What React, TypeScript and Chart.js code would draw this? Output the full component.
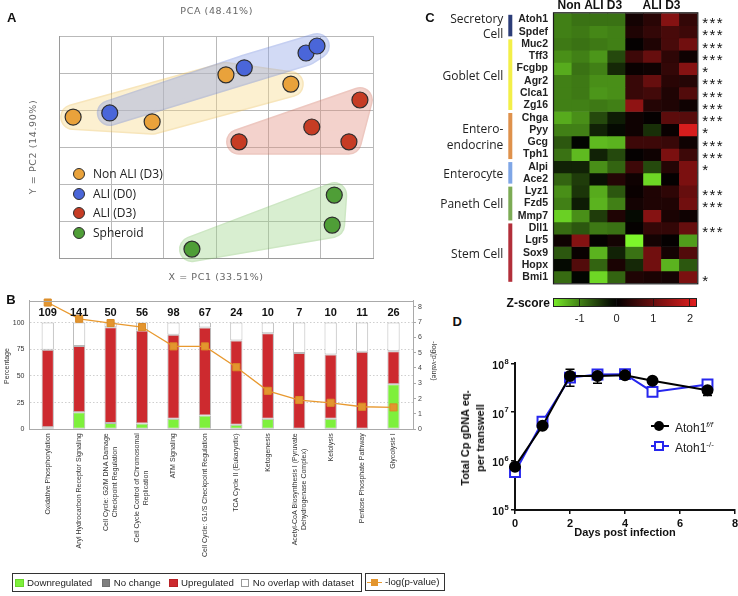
import React, { useEffect, useRef } from "react";
import { Chart, registerables } from "chart.js";
Chart.register(...registerables);

const FONT = "'Liberation Sans', Arial, sans-serif";

// ---------------- Panel A : PCA ----------------
const pcaGroupNames = ["Non ALI (D3)", "ALI (D0)", "ALI (D3)", "Spheroid"];
const pcaNonAliD3X = [0.27, 1.78, 3.19, 4.43];
const pcaNonAliD3Y = [3.81, 3.68, 4.95, 4.7];
const pcaAliD0X = [0.97, 3.54, 4.72, 4.93];
const pcaAliD0Y = [3.92, 5.14, 5.54, 5.73];
const pcaAliD3X = [3.44, 4.83, 5.54, 5.75];
const pcaAliD3Y = [3.14, 3.54, 3.14, 4.27];
const pcaSpheroidX = [2.54, 5.22, 5.26];
const pcaSpheroidY = [0.24, 0.89, 1.7];
const pcaGridTicks = [0, 1, 2, 3, 4, 5, 6];
const pcaPointColors = ["#e9a23b", "#4a66d9", "#c63c24", "#4f9e37"];
const pcaHullFill = ["#f7d98a", "#8ea3e6", "#e0907f", "#9fd58a"];
const pcaHullEdge = ["#ecbf55", "#6f88dc", "#d27462", "#82c26a"];

// ---------------- Panel B : pathways ----------------
const pathwayLabels = [
  ["Oxidative Phosphorylation"],
  ["Aryl Hydrocarbon Receptor Signaling"],
  ["Cell Cycle: G2/M DNA Damage", "Checkpoint Regulation"],
  ["Cell Cycle Control of Chromosomal", "Replication"],
  ["ATM Signaling"],
  ["Cell Cycle: G1/S Checkpoint Regulation"],
  ["TCA Cycle II (Eukaryotic)"],
  ["Ketogenesis"],
  ["Acetyl-CoA Biosynthesis I (Pyruvate", "Dehydrogenase Complex)"],
  ["Ketolysis"],
  ["Pentose Phosphate Pathway"],
  ["Glycolysis I"],
];
const pathwayGeneCounts = [109, 141, 50, 56, 98, 67, 24, 10, 7, 10, 11, 26];
const downPct = [2, 16, 6, 5.4, 10, 13, 4.2, 10, 0, 10, 0, 42.3];
const noChangePct = [0, 0, 0, 0, 0, 0, 0, 0, 0, 0, 0, 0];
const upPct = [72.5, 62, 89.6, 87.1, 78.7, 82.5, 79.1, 80, 71.4, 60, 72.7, 30.8];
const noOverlapPct = [25.5, 22, 4.4, 7.5, 11.3, 4.5, 16.7, 10, 28.6, 30, 27.3, 26.9];
const negLogP = [8.27, 7.21, 6.93, 6.67, 5.41, 5.41, 4.05, 2.51, 1.91, 1.73, 1.47, 1.43];
const pctTicks = [0, 25, 50, 75, 100];
const pTicks = [0, 1, 2, 3, 4, 5, 6, 7, 8];

// ---------------- Panel C : heatmap ----------------
const heatSamples = ["Non ALI D3 1", "Non ALI D3 2", "Non ALI D3 3", "Non ALI D3 4", "ALI D3 1", "ALI D3 2", "ALI D3 3", "ALI D3 4"];
const heatGenes = ["Atoh1", "Spdef", "Muc2", "Tff3", "Fcgbp", "Agr2", "Clca1", "Zg16", "Chga", "Pyy", "Gcg", "Tph1", "Alpi", "Ace2", "Lyz1", "Fzd5", "Mmp7", "Dll1", "Lgr5", "Sox9", "Hopx", "Bmi1"];
const zAtoh1 = [-1.0, -0.9, -0.9, -0.9, 0.2, 0.4, 1.3, 0.5];
const zSpdef = [-1.0, -0.95, -1.05, -1.0, 0.3, 0.5, 0.7, 0.6];
const zMuc2 = [-0.95, -0.9, -0.95, -1.0, 0.05, 0.3, 0.7, 1.1];
const zTff3 = [-1.1, -1.0, -1.15, -0.6, 0.6, 1.0, 0.45, 0.15];
const zFcgbp = [-1.3, -0.9, -1.0, -0.35, 0.1, 0.15, 0.5, 1.3];
const zAgr2 = [-1.0, -0.95, -1.1, -1.1, 0.55, 1.0, 0.4, 0.35];
const zClca1 = [-1.0, -0.95, -1.15, -1.1, 0.55, 0.65, 0.3, 0.8];
const zZg16 = [-1.0, -1.0, -0.95, -1.0, 1.4, 0.35, 0.3, 0.15];
const zChga = [-1.3, -1.1, -0.6, -0.25, 0.15, 0.05, 0.9, 0.85];
const zPyy = [-1.0, -1.0, -0.3, -0.1, 0.15, -0.4, 0.1, 2.1];
const zGcg = [-0.7, -0.05, -1.4, -1.35, 0.6, 0.6, 0.55, 0.15];
const zTph1 = [-0.9, -1.4, -0.3, -0.6, 0.05, 0.15, 1.2, 0.6];
const zAlpi = [-0.3, -0.3, -1.1, -0.8, 0.6, -0.6, 0.35, 1.2];
const zAce2 = [-0.8, -0.5, -0.15, 0.35, 0.15, -1.6, 0.05, 1.2];
const zLyz1 = [-1.1, -0.45, -1.3, -0.7, 0.1, 0.3, 0.45, 1.0];
const zFzd5 = [-1.0, -0.25, -1.35, -1.0, 0.2, 0.3, 0.3, 1.1];
const zMmp7 = [-1.55, -1.1, -0.5, 0.3, -0.1, 1.3, 0.25, 0.15];
const zDll1 = [-0.85, -0.7, -0.95, -0.9, 0.05, 0.5, 0.5, 1.0];
const zLgr5 = [0.15, 1.3, 0.05, 0.2, -1.9, 0.2, 0.05, -1.2];
const zSox9 = [-0.7, 0.1, -1.35, -0.3, -0.9, 1.1, 0.2, 0.8];
const zHopx = [-0.1, 0.8, -0.8, 0.25, -0.35, 1.1, -1.35, -0.7];
const zBmi1 = [-0.85, -0.05, -1.6, -0.8, 0.3, 0.25, 0.2, 1.2];
const heatRows = [zAtoh1, zSpdef, zMuc2, zTff3, zFcgbp, zAgr2, zClca1, zZg16, zChga, zPyy, zGcg, zTph1, zAlpi, zAce2, zLyz1, zFzd5, zMmp7, zDll1, zLgr5, zSox9, zHopx, zBmi1];
const heatStars = ["***", "***", "***", "***", "*", "***", "***", "***", "***", "*", "***", "***", "*", "", "***", "***", "", "***", "", "", "", "*"];
const cellTypeNames = [["Secretory", "Cell"], ["Goblet Cell"], ["Entero-", "endocrine"], ["Enterocyte"], ["Paneth Cell"], ["Stem Cell"]];
const cellTypeRowCounts = [2, 6, 4, 2, 3, 5];
const cellTypeColors = ["#2c3d78", "#f3ef48", "#df914b", "#7fa6e6", "#7cab55", "#b22f3a"];
const zScoreTicks = [-1, 0, 1, 2];
const zScoreMin = -1.72;
const zScoreMax = 2.2;

// ---------------- Panel D : infection ----------------
const dpiDays = [0, 1, 2, 3, 4, 5, 7];
const atohFlox = [7.7e5, 5.3e6, 5.5e7, 5.5e7, 5.7e7, 4.4e7, 2.8e7];
const atohFloxLow = [7.0e5, 4.8e6, 3.4e7, 3.9e7, 5.1e7, 4.1e7, 2.2e7];
const atohFloxHigh = [8.4e5, 5.8e6, 7.6e7, 6.8e7, 6.3e7, 4.8e7, 3.3e7];
const atohKo = [6.0e5, 6.4e6, 5.1e7, 5.9e7, 6.0e7, 2.6e7, 3.7e7];
const dXTicks = [0, 2, 4, 6, 8];
const dYTicks = [1e5, 1e6, 1e7, 1e8];

function zColor(z: number) {
  if (z < 0) {
    const t = Math.pow(Math.min(1, -z / 1.8), 1.1);
    return `rgb(${Math.round(125 * t)},${Math.round(245 * t)},${Math.round(42 * t)})`;
  }
  const t = Math.min(1, z / 2.2);
  return `rgb(${Math.round(225 * t)},${Math.round(30 * t)},${Math.round(30 * t)})`;
}

function convexHull(pts: { x: number; y: number }[]) {
  const p = [...pts].sort((a, b) => a.x - b.x || a.y - b.y);
  if (p.length < 3) return p;
  const cross = (o: any, a: any, b: any) => (a.x - o.x) * (b.y - o.y) - (a.y - o.y) * (b.x - o.x);
  const lower: any[] = [];
  for (const q of p) {
    while (lower.length >= 2 && cross(lower[lower.length - 2], lower[lower.length - 1], q) <= 0) lower.pop();
    lower.push(q);
  }
  const upper: any[] = [];
  for (const q of [...p].reverse()) {
    while (upper.length >= 2 && cross(upper[upper.length - 2], upper[upper.length - 1], q) <= 0) upper.pop();
    upper.push(q);
  }
  upper.pop();
  lower.pop();
  return lower.concat(upper);
}

const pcaHullPlugin = {
  id: "pcaHulls",
  beforeDatasetsDraw(chart: any) {
    const ctx = chart.ctx;
    const dpr = chart.currentDevicePixelRatio || 1;
    const pad = 13;
    chart.data.datasets.forEach((_: any, i: number) => {
      const meta = chart.getDatasetMeta(i);
      const hull = convexHull(meta.data.map((p: any) => ({ x: p.x, y: p.y })));
      const off = document.createElement("canvas");
      off.width = chart.canvas.width;
      off.height = chart.canvas.height;
      const o = off.getContext("2d")!;
      o.setTransform(dpr, 0, 0, dpr, 0, 0);
      o.lineJoin = "round";
      o.lineCap = "round";
      const path = () => {
        o.beginPath();
        hull.forEach((q: any, k: number) => (k ? o.lineTo(q.x, q.y) : o.moveTo(q.x, q.y)));
        o.closePath();
      };
      path();
      o.fillStyle = pcaHullEdge[i];
      o.strokeStyle = pcaHullEdge[i];
      o.lineWidth = 2 * pad;
      o.fill();
      o.stroke();
      path();
      o.fillStyle = pcaHullFill[i];
      o.strokeStyle = pcaHullFill[i];
      o.lineWidth = 2 * pad - 3;
      o.fill();
      o.stroke();
      ctx.save();
      ctx.setTransform(1, 0, 0, 1, 0, 0);
      ctx.globalAlpha = 0.4;
      ctx.drawImage(off, 0, 0);
      ctx.restore();
    });
  },
};

function makeA(canvas: HTMLCanvasElement) {
  const groups = [
    [pcaNonAliD3X, pcaNonAliD3Y],
    [pcaAliD0X, pcaAliD0Y],
    [pcaAliD3X, pcaAliD3Y],
    [pcaSpheroidX, pcaSpheroidY],
  ];
  return new Chart(canvas, {
    type: "scatter",
    data: {
      datasets: groups.map((g, i) => ({
        label: pcaGroupNames[i],
        data: g[0].map((x, j) => ({ x, y: g[1][j] })),
        backgroundColor: pcaPointColors[i],
        borderColor: "#2e2e2e",
        borderWidth: 1.2,
        pointRadius: 8,
      })),
    },
    options: {
      animation: false,
      responsive: false,
      events: [],
      layout: { autoPadding: false, padding: { left: 59, top: 36, right: 7, bottom: 32 } },
      plugins: { legend: { display: false }, tooltip: { enabled: false } },
      scales: {
        x: {
          type: "linear", min: 0, max: 6,
          afterBuildTicks: (s: any) => { s.ticks = pcaGridTicks.map((v) => ({ value: v })); },
          ticks: { display: false },
          grid: { color: "#b9b9b9", drawTicks: false },
          border: { color: "#9a9a9a" },
          afterFit: (s: any) => { s.height = 0; s.paddingLeft = 0; s.paddingRight = 0; },
        },
        y: {
          type: "linear", min: 0, max: 6,
          afterBuildTicks: (s: any) => { s.ticks = pcaGridTicks.map((v) => ({ value: v })); },
          ticks: { display: false },
          grid: { color: "#b9b9b9", drawTicks: false },
          border: { color: "#9a9a9a" },
          afterFit: (s: any) => { s.width = 0; s.paddingTop = 0; s.paddingBottom = 0; },
        },
      },
    } as any,
    plugins: [pcaHullPlugin],
  });
}

const bDecorPlugin = {
  id: "bDecor",
  afterDraw(chart: any) {
    const { ctx, chartArea: ca } = chart;
    const xs = chart.scales.x;
    ctx.save();
    ctx.strokeStyle = "#aaaaaa";
    ctx.lineWidth = 1;
    ctx.beginPath();
    ctx.moveTo(ca.left, Math.round(ca.top) + 0.5);
    ctx.lineTo(ca.right, Math.round(ca.top) + 0.5);
    ctx.stroke();
    ctx.fillStyle = "#111";
    ctx.font = `bold 11px ${FONT}`;
    ctx.textAlign = "center";
    ctx.textBaseline = "middle";
    pathwayGeneCounts.forEach((c, i) => ctx.fillText(String(c), xs.getPixelForValue(i), ca.top + 12.6));
    ctx.font = `7px ${FONT}`;
    ctx.fillStyle = "#333";
    pathwayLabels.forEach((lines, i) => {
      const x = xs.getPixelForValue(i);
      const maxW = Math.max(...lines.map((l) => ctx.measureText(l).width));
      const cy = ca.bottom + 4 + maxW / 2;
      lines.forEach((l, k) => {
        ctx.save();
        ctx.translate(x + (k - (lines.length - 1) / 2) * 9, cy);
        ctx.rotate(-Math.PI / 2);
        ctx.fillText(l, 0, 0);
        ctx.restore();
      });
    });
    ctx.restore();
  },
};

function makeB(canvas: HTMLCanvasElement) {
  const barCommon = { stack: "s", order: 1, borderColor: "#b9b9b9", borderWidth: 1, borderSkipped: false, barPercentage: 0.39, categoryPercentage: 1 };
  const pts = (arr: number[]) => arr.map((v, i) => ({ x: i, y: v }));
  return new Chart(canvas, {
    type: "bar",
    data: {
      datasets: [
        {
          type: "line", label: "-log(p-value)", data: pts(negLogP), yAxisID: "y2", order: 0, clip: false,
          borderColor: "#e8992f", borderWidth: 1.3, fill: false, tension: 0,
          pointStyle: "rect", pointRadius: 5, pointBackgroundColor: "#e3952e", pointBorderColor: "#d98a26", pointBorderWidth: 1,
        },
        { ...barCommon, label: "Downregulated", data: pts(downPct), backgroundColor: "#7ef03c" },
        { ...barCommon, label: "No change", data: pts(noChangePct), backgroundColor: "#7f7f7f", borderWidth: 0 },
        { ...barCommon, label: "Upregulated", data: pts(upPct), backgroundColor: "#cd2a2f" },
        { ...barCommon, label: "No overlap with dataset", data: pts(noOverlapPct), backgroundColor: "#ffffff" },
      ] as any,
    },
    options: {
      animation: false,
      responsive: false,
      events: [],
      layout: { autoPadding: false, padding: { left: 0, top: 10.7, right: 0, bottom: 140.7 } },
      plugins: { legend: { display: false }, tooltip: { enabled: false } },
      scales: {
        x: {
          type: "linear", stacked: true, min: -0.58, max: 11.62, offset: false,
          grid: { display: false },
          ticks: { display: false },
          border: { color: "#aaaaaa" },
          afterFit: (s: any) => { s.height = 0; s.paddingLeft = 0; s.paddingRight = 0; },
        },
        y: {
          stacked: true, min: 0, max: 120.5,
          afterBuildTicks: (s: any) => { s.ticks = pctTicks.map((v) => ({ value: v })); },
          ticks: { font: { size: 7, family: FONT }, color: "#333", padding: 5 },
          grid: { color: "#cfcfcf", drawTicks: false },
          border: { color: "#aaaaaa", dash: [1.5, 2] },
          afterFit: (s: any) => { s.width = 29.5; s.paddingTop = 0; s.paddingBottom = 0; },
        },
        y2: {
          position: "right", min: 0, max: 8.39,
          afterBuildTicks: (s: any) => { s.ticks = pTicks.map((v) => ({ value: v })); },
          ticks: { font: { size: 7, family: FONT }, color: "#444", padding: 2 },
          grid: { drawOnChartArea: false, drawTicks: true, tickLength: 3, color: "#aaaaaa" },
          border: { color: "#aaaaaa" },
          afterFit: (s: any) => { s.width = 37; s.paddingTop = 0; s.paddingBottom = 0; },
        },
      },
    } as any,
    plugins: [bDecorPlugin],
  });
}

const heatDecorPlugin = {
  id: "heatDecor",
  afterDraw(chart: any) {
    const { ctx, chartArea: ca } = chart;
    const ys = chart.scales.y;
    const xs = chart.scales.x;
    ctx.save();
    ctx.strokeStyle = "#1a1a1a";
    ctx.lineWidth = 1.2;
    ctx.strokeRect(ca.left - 0.5, ca.top - 0.5, ca.right - ca.left + 1, ca.bottom - ca.top + 1);
    ctx.fillStyle = "#111";
    ctx.font = `bold 12px ${FONT}`;
    ctx.textAlign = "center";
    ctx.textBaseline = "middle";
    ctx.fillText("Non ALI D3", (xs.getPixelForValue(0) + xs.getPixelForValue(3)) / 2, 5.5);
    ctx.fillText("ALI D3", (xs.getPixelForValue(4) + xs.getPixelForValue(7)) / 2, 5.5);
    ctx.font = `15px ${FONT}`;
    ctx.textAlign = "left";
    ctx.textBaseline = "alphabetic";
    heatStars.forEach((s, i) => {
      const y = ys.getPixelForValue(i + 0.5);
      for (let k = 0; k < s.length; k++) ctx.fillText("*", ca.right + 5 + k * 7.2, y + 8.6);
    });
    let r = 0;
    cellTypeRowCounts.forEach((n, g) => {
      const y0 = ys.getPixelForValue(r);
      const y1 = ys.getPixelForValue(r + n);
      ctx.fillStyle = cellTypeColors[g];
      ctx.fillRect(ca.left - 45.7, y0 + 1.5, 4, y1 - y0 - 3);
      const names = cellTypeNames[g];
      const cy = (y0 + y1) / 2 + 1.5;
      ctx.fillStyle = "#222";
      ctx.font = `12px 'Open Sans', ${FONT}`;
      ctx.textAlign = "right";
      ctx.textBaseline = "middle";
      names.forEach((t, k) => ctx.fillText(t, ca.left - 50.7, cy + (k - (names.length - 1) / 2) * 15.5));
      r += n;
    });
    ctx.restore();
  },
};

function makeC(canvas: HTMLCanvasElement) {
  return new Chart(canvas, {
    type: "bar",
    data: {
      labels: heatSamples,
      datasets: heatGenes.map((g, i) => ({
        label: g,
        data: heatSamples.map(() => 1),
        backgroundColor: heatRows[i].map(zColor),
        borderWidth: 0,
        barPercentage: 1,
        categoryPercentage: 1,
        stack: "heat",
      })),
    },
    options: {
      animation: false,
      responsive: false,
      events: [],
      layout: { autoPadding: false, padding: { left: 0, top: 13.3, right: 40.7, bottom: 12.7 } },
      plugins: { legend: { display: false }, tooltip: { enabled: false } },
      scales: {
        x: {
          stacked: true,
          grid: { display: false },
          ticks: { display: false },
          border: { display: false },
          afterFit: (s: any) => { s.height = 0; s.paddingLeft = 0; s.paddingRight = 0; },
        },
        y: {
          type: "linear", stacked: true, reverse: true, min: 0, max: heatGenes.length,
          afterBuildTicks: (s: any) => { s.ticks = heatGenes.map((_, i) => ({ value: i + 0.5 })); },
          ticks: {
            autoSkip: false,
            callback: (_v: any, i: number) => heatGenes[i],
            font: { weight: "bold", size: 10.5, family: FONT },
            color: "#222",
            padding: 6,
          },
          grid: { display: false, drawTicks: false },
          border: { display: false },
          afterFit: (s: any) => { s.width = 174; s.paddingTop = 0; s.paddingBottom = 0; },
        },
      },
    } as any,
    plugins: [heatDecorPlugin],
  });
}

const dDecorPlugin = {
  id: "dDecor",
  beforeDatasetsDraw(chart: any) {
    const { ctx } = chart;
    const xs = chart.scales.x;
    const ys = chart.scales.y;
    ctx.save();
    ctx.strokeStyle = "#000";
    ctx.lineWidth = 1.5;
    dpiDays.forEach((d, i) => {
      const x = xs.getPixelForValue(d);
      const yl = ys.getPixelForValue(atohFloxLow[i]);
      const yh = ys.getPixelForValue(atohFloxHigh[i]);
      ctx.beginPath();
      ctx.moveTo(x, yl);
      ctx.lineTo(x, yh);
      ctx.moveTo(x - 4.5, yl);
      ctx.lineTo(x + 4.5, yl);
      ctx.moveTo(x - 4.5, yh);
      ctx.lineTo(x + 4.5, yh);
      ctx.stroke();
    });
    ctx.restore();
  },
  afterDraw(chart: any) {
    const { ctx } = chart;
    const ys = chart.scales.y;
    const ax = chart.chartArea.left;
    ctx.save();
    ctx.fillStyle = "#111";
    dYTicks.forEach((v) => {
      const y = ys.getPixelForValue(v);
      ctx.font = `bold 10.5px ${FONT}`;
      ctx.textAlign = "right";
      ctx.textBaseline = "middle";
      ctx.fillText("10", ax - 11, y + 2.5);
      ctx.font = `bold 7.5px ${FONT}`;
      ctx.textAlign = "left";
      ctx.fillText(String(Math.round(Math.log10(v))), ax - 10.5, y - 1.8);
    });
    ctx.restore();
  },
};

function makeD(canvas: HTMLCanvasElement) {
  return new Chart(canvas, {
    type: "line",
    data: {
      datasets: [
        {
          label: "Atoh1 f/f",
          data: dpiDays.map((d, i) => ({ x: d, y: atohFlox[i] })),
          borderColor: "#000", backgroundColor: "#000", borderWidth: 2, clip: false,
          pointRadius: 5, pointBackgroundColor: "#000", pointBorderColor: "#000", order: 0,
        },
        {
          label: "Atoh1 -/-",
          data: dpiDays.map((d, i) => ({ x: d, y: atohKo[i] })),
          borderColor: "#2626ee", backgroundColor: "#ffffff", borderWidth: 2, clip: false,
          pointStyle: "rect", pointRadius: 7, pointBackgroundColor: "#ffffff",
          pointBorderColor: "#2626ee", pointBorderWidth: 2, order: 1,
        },
      ],
    },
    options: {
      animation: false,
      responsive: false,
      events: [],
      layout: { autoPadding: false, padding: { left: 0, top: 23.3, right: 3, bottom: 0 } },
      plugins: { legend: { display: false }, tooltip: { enabled: false } },
      scales: {
        x: {
          type: "linear", min: 0, max: 8,
          afterBuildTicks: (s: any) => { s.ticks = dXTicks.map((v) => ({ value: v })); },
          ticks: { font: { weight: "bold", size: 11, family: FONT }, color: "#111", padding: 3 },
          grid: { drawOnChartArea: false, drawTicks: true, tickLength: 4, color: "#111", lineWidth: 1.5 },
          border: { color: "#111", width: 2 },
          afterFit: (s: any) => { s.height = 35; s.paddingLeft = 0; s.paddingRight = 0; },
        },
        y: {
          type: "logarithmic", min: 1e5, max: 1e8,
          afterBuildTicks: (s: any) => { s.ticks = dYTicks.map((v) => ({ value: v })); },
          ticks: { display: false },
          grid: { drawOnChartArea: false, drawTicks: true, tickLength: 4, color: "#111", lineWidth: 1.5 },
          border: { color: "#111", width: 2 },
          afterFit: (s: any) => { s.width = 60; s.paddingTop = 0; s.paddingBottom = 0; },
        },
      },
    } as any,
    plugins: [dDecorPlugin],
  });
}

const abs = (x: number, y: number, extra: any = {}): any => ({
  position: "absolute", left: x, top: y, whiteSpace: "nowrap", lineHeight: 1, ...extra,
});
const center = "translate(-50%,-50%)";

function zGradient() {
  const stops: string[] = [];
  for (let k = 0; k <= 20; k++) {
    const z = zScoreMin + (k / 20) * (zScoreMax - zScoreMin);
    stops.push(`${zColor(z)} ${(k * 5).toFixed(0)}%`);
  }
  return `linear-gradient(to right, ${stops.join(",")})`;
}

export default function App() {
  const aRef = useRef<HTMLCanvasElement>(null);
  const bRef = useRef<HTMLCanvasElement>(null);
  const cRef = useRef<HTMLCanvasElement>(null);
  const dRef = useRef<HTMLCanvasElement>(null);

  useEffect(() => {
    const charts = [makeA(aRef.current!), makeB(bRef.current!), makeC(cRef.current!), makeD(dRef.current!)];
    return () => charts.forEach((c) => c.destroy());
  }, []);

  const zBarLeft = 553.3;
  const zBarWidth = 144;
  const zToX = (z: number) => zBarLeft + ((z - zScoreMin) / (zScoreMax - zScoreMin)) * zBarWidth;
  const pcaLegendY = [174, 194, 213, 233];
  const bLegend = [
    { label: "Downregulated", color: "#7ef03c", border: "#6ad62c", x: 15 },
    { label: "No change", color: "#7f7f7f", border: "#707070", x: 101.7 },
    { label: "Upregulated", color: "#cd2a2f", border: "#b82226", x: 169 },
    { label: "No overlap with dataset", color: "#ffffff", border: "#999", x: 240.7 },
  ];

  return (
    <div style={{ position: "absolute", left: 0, top: 0, width: 738, height: 596, overflow: "hidden", background: "#fff", fontFamily: FONT, color: "#111" }}>
      <canvas ref={aRef} width={380} height={290} style={{ position: "absolute", left: 0, top: 0, width: 380, height: 290 }} />
      <canvas ref={bRef} width={450} height={280} style={{ position: "absolute", left: 0, top: 290, width: 450, height: 280 }} />
      <canvas ref={cRef} width={358} height={296} style={{ position: "absolute", left: 380, top: 0, width: 358, height: 296 }} />
      <canvas ref={dRef} width={283} height={205} style={{ position: "absolute", left: 455, top: 340, width: 283, height: 205 }} />

      {/* Panel letters */}
      <div style={abs(11.7, 17.3, { transform: center, fontWeight: "bold", fontSize: 13 })}>A</div>
      <div style={abs(11, 299, { transform: center, fontWeight: "bold", fontSize: 13 })}>B</div>
      <div style={abs(430, 17, { transform: center, fontWeight: "bold", fontSize: 13 })}>C</div>
      <div style={abs(457.3, 320.7, { transform: center, fontWeight: "bold", fontSize: 13 })}>D</div>

      {/* Panel A text */}
      <div style={abs(216.7, 11, { transform: center, fontFamily: "'DejaVu Sans', sans-serif", fontSize: 9.5, letterSpacing: 0.6, color: "#666" })}>PCA (48.41%)</div>
      <div style={abs(216, 277, { transform: center, fontFamily: "'DejaVu Sans', sans-serif", fontSize: 9.5, letterSpacing: 0.6, color: "#666" })}>X = PC1 (33.51%)</div>
      <div style={abs(33, 147, { transform: center + " rotate(-90deg)", fontFamily: "'DejaVu Sans', sans-serif", fontSize: 9.5, letterSpacing: 0.6, color: "#666" })}>Y = PC2 (14.90%)</div>
      {pcaGroupNames.map((n, i) => (
        <React.Fragment key={n}>
          <div style={abs(79 - 6, pcaLegendY[i] - 6, { width: 12, height: 12, borderRadius: 6, background: pcaPointColors[i], border: "1px solid #2e2e2e", boxSizing: "border-box" })} />
          <div style={abs(93, pcaLegendY[i], { transform: "translateY(-50%)", fontFamily: "'Open Sans', sans-serif", fontSize: 12, color: "#222" })}>{n}</div>
        </React.Fragment>
      ))}

      {/* Panel B text */}
      <div style={abs(6, 366, { transform: center + " rotate(-90deg)", fontSize: 7, color: "#333" })}>Percentage</div>
      <div style={abs(434, 361, { transform: center + " rotate(90deg)", fontSize: 7, color: "#333" })}>-log(p-value)</div>
      <div style={abs(12, 573, { width: 350, height: 19, border: "1px solid #333", boxSizing: "border-box" })} />
      {bLegend.map((it) => (
        <React.Fragment key={it.label}>
          <div style={abs(it.x, 578.5, { width: 8.5, height: 8.5, background: it.color, border: `1px solid ${it.border}`, boxSizing: "border-box" })} />
          <div style={abs(it.x + 12, 582.7, { transform: "translateY(-50%)", fontSize: 9.7, color: "#222" })}>{it.label}</div>
        </React.Fragment>
      ))}
      <div style={abs(365, 573, { width: 80, height: 18, border: "1px solid #333", boxSizing: "border-box" })} />
      <div style={abs(367, 581.5, { width: 15, height: 1.4, background: "#e8992f" })} />
      <div style={abs(371, 578.5, { width: 7, height: 7, background: "#e3952e" })} />
      <div style={abs(385, 582, { transform: "translateY(-50%)", fontSize: 9.7, color: "#222" })}>-log(p-value)</div>

      {/* Panel C z-score legend */}
      <div style={abs(528.3, 303, { transform: center, fontWeight: "bold", fontSize: 12 })}>Z-score</div>
      <div style={abs(zBarLeft, 298.3, { width: zBarWidth, height: 9, background: zGradient(), border: "1px solid #222", boxSizing: "border-box" })} />
      {zScoreTicks.map((t) => (
        <React.Fragment key={t}>
          <div style={abs(zToX(t) - 0.5, 299, { width: 1, height: 7, background: "rgba(20,20,20,0.8)" })} />
          <div style={abs(zToX(t), 318, { transform: center, fontSize: 11, color: "#222" })}>{t}</div>
        </React.Fragment>
      ))}

      {/* Panel D text */}
      <div style={abs(625, 531.7, { transform: center, fontWeight: "bold", fontSize: 11 })}>Days post infection</div>
      <div style={abs(472.5, 437.5, { transform: center + " rotate(-90deg)", fontWeight: "bold", fontSize: 11, lineHeight: "15px", textAlign: "center" })}>
        Total Cp gDNA eq.<br />per transwell
      </div>
      <div style={abs(650.7, 425, { width: 18, height: 2, background: "#000" })} />
      <div style={abs(654.3, 421, { width: 10, height: 10, borderRadius: 5, background: "#000" })} />
      <div style={abs(675, 426, { transform: "translateY(-50%)", fontSize: 12, color: "#222", lineHeight: "14px" })}>
        Atoh1<sup style={{ fontSize: 8, fontStyle: "italic", verticalAlign: "5px" }}>f/f</sup>
      </div>
      <div style={abs(650.7, 444.7, { width: 18, height: 2, background: "#2626ee" })} />
      <div style={abs(654.3, 440.7, { width: 10, height: 10, background: "#fff", border: "2px solid #2626ee", boxSizing: "border-box" })} />
      <div style={abs(675, 445.7, { transform: "translateY(-50%)", fontSize: 12, color: "#222", lineHeight: "14px" })}>
        Atoh1<sup style={{ fontSize: 8, verticalAlign: "5px" }}>-/-</sup>
      </div>
    </div>
  );
}
